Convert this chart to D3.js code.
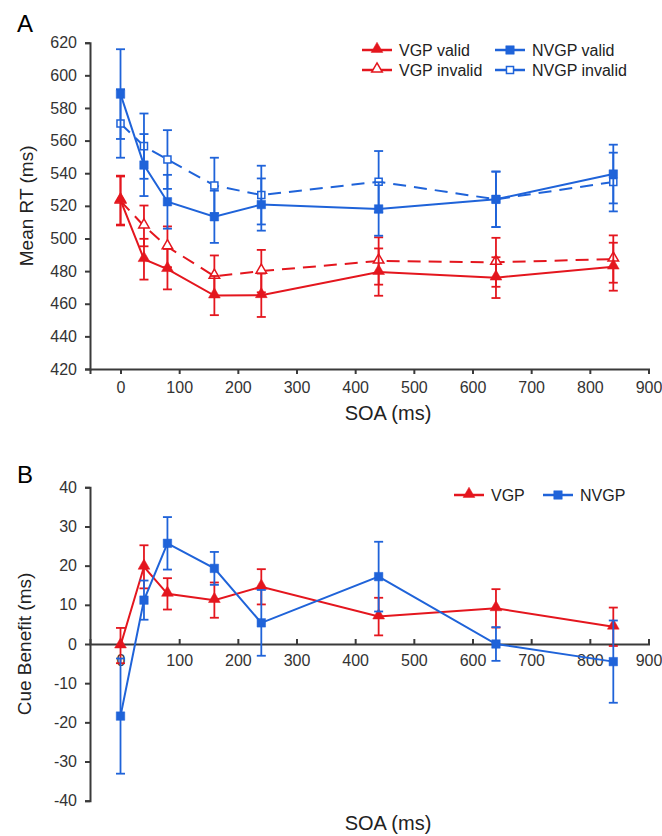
<!DOCTYPE html>
<html>
<head>
<meta charset="utf-8">
<script src="https://cdn.jsdelivr.net/npm/d3@7/dist/d3.min.js"></script>
<style>
	body { margin: 0; background: #fff; }
	svg { display: block; font-family: "Liberation Sans", Arial, sans-serif; }
	.axis path, .axis line { stroke: #3a3a3a; stroke-width: 2; }
	.axis text { font-size: 16px; fill: #333; }
</style>
</head>
<body>
<script>
// SOA values (ms)
var soa = [0, 40, 80, 160, 240, 440, 640, 840];

// Panel A - mean RT (ms)
var vgpValid        = [523.5, 487.3, 481.2, 465.0, 465.2, 479.4, 476.0, 482.7];
var vgpValidErr     = [15, 12.5, 12.4, 12, 13.3, 14.5, 12.5, 14.7];
var vgpInvalid      = [523.0, 507.7, 494.9, 476.9, 480.0, 486.2, 485.4, 487.4];
var vgpInvalidErr   = [15, 12.5, 12.5, 12.7, 13, 14.5, 15, 14.5];
var nvgpValid       = [588.5, 545.0, 522.5, 513.3, 520.8, 518.1, 524.0, 539.5];
var nvgpValidErr    = [27.5, 19, 16.5, 16, 16, 16.4, 17, 18];
var nvgpInvalid     = [570.5, 556.6, 548.4, 532.5, 526.6, 534.8, 524.0, 534.6];
var nvgpInvalidErr  = [21, 20, 18, 17, 18, 18.8, 17, 18];

// Panel B - cue benefit (ms)
var vgpBenefit      = [-0.4, 19.7, 12.8, 11.2, 14.6, 7.0, 9.1, 4.4];
var vgpBenefitErr   = [4.5, 5.5, 4, 4.5, 4.5, 4.8, 4.9, 4.9];
var nvgpBenefit     = [-18.4, 11.2, 25.7, 19.3, 5.4, 17.2, 0, -4.5];
var nvgpBenefitErr  = [14.7, 5, 6.7, 4.2, 8.4, 8.9, 4.3, 10.5];

// Ticks
var xTicks  = [0, 100, 200, 300, 400, 500, 600, 700, 800, 900];
var yTicksA = [420, 440, 460, 480, 500, 520, 540, 560, 580, 600, 620];
var yTicksB = [-40, -30, -20, -10, 0, 10, 20, 30, 40];

window.onload = function(){

	var red  = "#e4161e",
		blue = "#1f63d9";

	// plain hyphen for negatives, like the original
	var fmt = function(d){ return String(d); };

	var svg = d3.select("body").append("svg")
		.attr("width", 662)
		.attr("height", 836);

	var xScale  = d3.scaleLinear().domain([-52, 900]).range([90, 648.5]),
		yScaleA = d3.scaleLinear().domain([420, 620]).range([369, 42.7]),
		yScaleB = d3.scaleLinear().domain([-40, 40]).range([800.7, 487.3]);

	// ---------- Panel A ----------
	svg.append("g")
		.attr("class", "axis")
		.attr("transform", "translate(0," + yScaleA(420) + ")")
		.call(d3.axisBottom(xScale).tickValues(xTicks).tickFormat(fmt).tickSize(5).tickPadding(8));

	svg.append("g")
		.attr("class", "axis")
		.attr("transform", "translate(" + xScale.range()[0] + ",0)")
		.call(d3.axisLeft(yScaleA).tickValues(yTicksA).tickFormat(fmt).tickSize(5).tickPadding(8));

	// ---------- Panel B ----------
	svg.append("g")
		.attr("class", "axis")
		.attr("transform", "translate(0," + yScaleB(0) + ")")
		.call(d3.axisBottom(xScale).tickValues(xTicks).tickFormat(fmt).tickSize(-5).tickPadding(11));

	svg.append("g")
		.attr("class", "axis")
		.attr("transform", "translate(" + xScale.range()[0] + ",0)")
		.call(d3.axisLeft(yScaleB).tickValues(yTicksB).tickFormat(fmt).tickSize(5).tickPadding(8));

	// Titles
	svg.append("text").attr("x", 17).attr("y", 32).style("font-size", "24px").text("A");
	svg.append("text").attr("x", 17).attr("y", 483).style("font-size", "24px").text("B");

	svg.append("text")
		.attr("transform", "translate(33," + ((yScaleA(420) + yScaleA(620)) / 2) + ") rotate(-90)")
		.attr("text-anchor", "middle").style("font-size", "19px").style("fill", "#222")
		.text("Mean RT (ms)");
	svg.append("text")
		.attr("transform", "translate(31," + ((yScaleB(-40) + yScaleB(40)) / 2) + ") rotate(-90)")
		.attr("text-anchor", "middle").style("font-size", "19px").style("fill", "#222")
		.text("Cue Benefit (ms)");

	svg.append("text").attr("x", 388).attr("y", 420).attr("text-anchor", "middle")
		.style("font-size", "20px").style("fill", "#222").text("SOA (ms)");
	svg.append("text").attr("x", 388).attr("y", 830).attr("text-anchor", "middle")
		.style("font-size", "20px").style("fill", "#222").text("SOA (ms)");

	// Series
	function drawSeries(yScale, vals, errs, colour, shape, filled, dashed){
		var pts = soa.map(function(s, i){ return { x: s, y: vals[i], e: errs[i] }; });
		var g = svg.append("g");

		var line = d3.line()
			.x(function(d){ return xScale(d.x); })
			.y(function(d){ return yScale(d.y); });

		g.append("path")
			.datum(pts)
			.attr("d", line)
			.attr("fill", "none")
			.attr("stroke", colour)
			.attr("stroke-width", 2)
			.attr("stroke-dasharray", dashed ? "13,8" : null);

		var eb = g.selectAll("g.err").data(pts).enter().append("g")
			.attr("stroke", colour).attr("stroke-width", 1.8);
		eb.append("line")
			.attr("x1", function(d){ return xScale(d.x); })
			.attr("x2", function(d){ return xScale(d.x); })
			.attr("y1", function(d){ return yScale(d.y - d.e); })
			.attr("y2", function(d){ return yScale(d.y + d.e); });
		[-1, 1].forEach(function(sign){
			eb.append("line")
				.attr("x1", function(d){ return xScale(d.x) - 4.5; })
				.attr("x2", function(d){ return xScale(d.x) + 4.5; })
				.attr("y1", function(d){ return yScale(d.y + sign * d.e); })
				.attr("y2", function(d){ return yScale(d.y + sign * d.e); });
		});

		drawMarkers(g, pts.map(function(d){ return [xScale(d.x), yScale(d.y)]; }), colour, shape, filled);
	}

	function drawMarkers(g, xy, colour, shape, filled){
		var sym = d3.symbol()
			.type(shape == "tri" ? d3.symbolTriangle : d3.symbolSquare)
			.size(shape == "tri" ? (filled ? 60 : 48) : (filled ? 72 : 50));
		g.selectAll("path.mk").data(xy).enter().append("path")
			.attr("class", "mk")
			.attr("d", sym)
			.attr("transform", function(d){ return "translate(" + d[0] + "," + (d[1] + (shape == "tri" ? -1 : 0)) + ")"; })
			.attr("fill", filled ? colour : "#fff")
			.attr("stroke", colour)
			.attr("stroke-width", filled ? 0.5 : 1.5);
	}

	// invalid first so the valid markers sit on top
	drawSeries(yScaleA, vgpInvalid, vgpInvalidErr, red, "tri", false, true);
	drawSeries(yScaleA, nvgpInvalid, nvgpInvalidErr, blue, "sq", false, true);
	drawSeries(yScaleA, vgpValid, vgpValidErr, red, "tri", true, false);
	drawSeries(yScaleA, nvgpValid, nvgpValidErr, blue, "sq", true, false);

	drawSeries(yScaleB, vgpBenefit, vgpBenefitErr, red, "tri", true, false);
	drawSeries(yScaleB, nvgpBenefit, nvgpBenefitErr, blue, "sq", true, false);

	// Legends
	function legendItem(x, y, label, colour, shape, filled){
		var g = svg.append("g");
		g.append("line")
			.attr("x1", x).attr("x2", x + 30).attr("y1", y).attr("y2", y)
			.attr("stroke", colour).attr("stroke-width", 2.5);
		drawMarkers(g, [[x + 15, y]], colour, shape, filled);
		g.append("text")
			.attr("x", x + 37).attr("y", y + 6)
			.style("font-size", "16px").style("fill", "#222")
			.text(label);
	}

	legendItem(362, 50, "VGP valid", red, "tri", true);
	legendItem(362, 70, "VGP invalid", red, "tri", false);
	legendItem(495, 50, "NVGP valid", blue, "sq", true);
	legendItem(495, 70, "NVGP invalid", blue, "sq", false);

	legendItem(454, 495, "VGP", red, "tri", true);
	legendItem(543, 495, "NVGP", blue, "sq", true);
};
</script>
</body>
</html>
